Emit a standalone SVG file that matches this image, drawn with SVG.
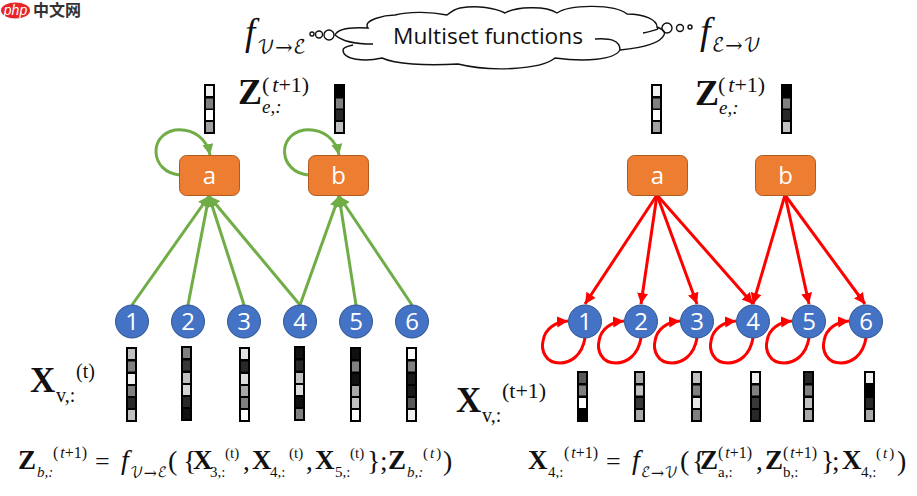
<svg xmlns="http://www.w3.org/2000/svg" width="917" height="496" viewBox="0 0 917 496">
<style>
.nr{fill:#ed7d31;stroke:#ae5a21;stroke-width:1}
.nc{fill:#4472c4;stroke:#2f528f;stroke-width:1}
.nt{font-family:"Open Sans","Noto Sans",sans-serif;font-size:24px;fill:#fff;text-anchor:middle}
.g{fill:none;stroke:#70ad47;stroke-width:3;marker-end:url(#ag)}
.r{fill:none;stroke:#f00;stroke-width:3;marker-end:url(#ar)}
.m{font-family:"Liberation Serif",serif;fill:#111}
.b{font-weight:bold}
.i{font-style:italic}
.s{font-family:"DejaVu Math TeX Gyre","DejaVu Serif",serif;font-style:normal}
.c{fill:none;stroke:#111;stroke-width:1.4}
</style>
<defs>
<marker id="ag" markerUnits="userSpaceOnUse" markerWidth="12" markerHeight="12" refX="11" refY="5.5" orient="auto"><path d="M0 0L11 5.5L0 11z" fill="#70ad47"/></marker>
<marker id="ar" markerUnits="userSpaceOnUse" markerWidth="12" markerHeight="12" refX="11" refY="5.5" orient="auto"><path d="M0 0L11 5.5L0 11z" fill="#f00"/></marker>
</defs>
<rect width="917" height="496" fill="#fff"/>

<g id="watermark">
<ellipse cx="15.500" cy="10.500" rx="14.500" ry="8" fill="#e8262a"/>
<text x="15.500" y="15" font-family="Liberation Sans,sans-serif" font-style="italic" font-size="14" fill="#fff" text-anchor="middle">php</text>
<text x="33" y="16" font-family="'Noto Sans CJK SC',sans-serif" font-size="16" font-weight="bold" fill="#333">中文网</text>
</g>

<g id="cloud">
<path class="c" d="M335 35C338 28 352 27 368 28C362 20 385 15 395 15C410 11 432 12 447 15C452 11 455 9 460 8C478 5 495 8 505 13C515 7 545 5 557 13C570 4 615 4 627 14C645 14 657 20 657 27C662 29 666 31 664 35C660 44 640 48 620 50C614 60 585 62 555 58C540 70 490 72 458 64C425 66 395 64 382 58C365 62 343 60 343 50C343 48 348 46 353 45"/>
<path class="c" d="M335 35C342 41 352 44 373 44M657 27C660 30 655 30 643 33M595 39C610 38 620 40 620 50"/>
<circle class="c" cx="312" cy="34" r="2"/><circle class="c" cx="319" cy="34.500" r="3.500"/><circle class="c" cx="329" cy="35" r="5"/>
<circle class="c" cx="667" cy="28" r="5"/><circle class="c" cx="680" cy="28" r="3.500"/><circle class="c" cx="690" cy="27" r="2"/>
<text x="393" y="44" font-family="'Open Sans','Noto Sans',sans-serif" font-size="22" fill="#111" textLength="190" lengthAdjust="spacingAndGlyphs">Multiset functions</text>
</g>

<g id="connectors">
<path class="g" d="M132 305L209 196"/><path class="g" d="M188 305L209 196"/><path class="g" d="M244 305L209 196"/><path class="g" d="M300 305L209 196"/>
<path class="g" d="M300 305L339 196"/><path class="g" d="M356 305L339 196"/><path class="g" d="M412 305L339 196"/>
<path class="g" d="M179.500 175C150 172 148 135 175 130C195 128 207 140 210 155"/>
<path class="g" d="M308 175C279 172 276 135 304 130C324 128 336 140 339 155"/>
<path class="r" d="M657 195L585 304"/><path class="r" d="M657 195L641 304"/><path class="r" d="M657 195L697 304"/><path class="r" d="M657 195L753 304"/>
<path class="r" d="M785 195L753 304"/><path class="r" d="M785 195L809 304"/><path class="r" d="M785 195L865 304"/>
<path class="r" d="M585 338C582 356 570 363 560 363C545 363 541 350 543 341C545 328 556 322 568 321"/>
<path class="r" d="M641 338C638 356 626 363 616 363C601 363 597 350 599 341C601 328 612 322 624 321"/>
<path class="r" d="M697 338C694 356 682 363 672 363C657 363 653 350 655 341C657 328 668 322 680 321"/>
<path class="r" d="M753 338C750 356 738 363 728 363C713 363 709 350 711 341C713 328 724 322 736 321"/>
<path class="r" d="M809 338C806 356 794 363 784 363C769 363 765 350 767 341C769 328 780 322 792 321"/>
<path class="r" d="M866 338C863 356 851 363 841 363C826 363 822 350 824 341C826 328 837 322 849 321"/>
</g>

<g id="a-left"><rect class="nr" x="179.500" y="155.500" width="60" height="40" rx="7"/><text class="nt" x="209.500" y="184">a</text></g>
<g id="b-left"><rect class="nr" x="308.500" y="155.500" width="60" height="40" rx="7"/><text class="nt" x="338.500" y="184">b</text></g>
<g id="a-right"><rect class="nr" x="627.500" y="155.500" width="60" height="40" rx="7"/><text class="nt" x="657.500" y="184">a</text></g>
<g id="b-right"><rect class="nr" x="755.500" y="155.500" width="60" height="40" rx="7"/><text class="nt" x="785.500" y="184">b</text></g>

<g id="n1-left"><circle class="nc" cx="132" cy="321.500" r="16.500"/><text class="nt" x="132" y="330">1</text></g>
<g id="n2-left"><circle class="nc" cx="188" cy="321.500" r="16.500"/><text class="nt" x="188" y="330">2</text></g>
<g id="n3-left"><circle class="nc" cx="244" cy="321.500" r="16.500"/><text class="nt" x="244" y="330">3</text></g>
<g id="n4-left"><circle class="nc" cx="300" cy="321.500" r="16.500"/><text class="nt" x="300" y="330">4</text></g>
<g id="n5-left"><circle class="nc" cx="356" cy="321.500" r="16.500"/><text class="nt" x="356" y="330">5</text></g>
<g id="n6-left"><circle class="nc" cx="412" cy="321.500" r="16.500"/><text class="nt" x="412" y="330">6</text></g>
<g id="n1-right"><circle class="nc" cx="585" cy="321.500" r="16.500"/><text class="nt" x="585" y="330">1</text></g>
<g id="n2-right"><circle class="nc" cx="641" cy="321.500" r="16.500"/><text class="nt" x="641" y="330">2</text></g>
<g id="n3-right"><circle class="nc" cx="697" cy="321.500" r="16.500"/><text class="nt" x="697" y="330">3</text></g>
<g id="n4-right"><circle class="nc" cx="753" cy="321.500" r="16.500"/><text class="nt" x="753" y="330">4</text></g>
<g id="n5-right"><circle class="nc" cx="809" cy="321.500" r="16.500"/><text class="nt" x="809" y="330">5</text></g>
<g id="n6-right"><circle class="nc" cx="866" cy="321.500" r="16.500"/><text class="nt" x="866" y="330">6</text></g>

<g id="vectors">
<g transform="translate(204,84)"><rect width="11" height="50"/><rect x="2" y="2" width="7" height="10" fill="#f0f0f0"/><rect x="2" y="14.500" width="7" height="10" fill="#808080"/><rect x="2" y="26" width="7" height="10" fill="#fff"/><rect x="2" y="38" width="7" height="10" fill="#a0a0a0"/></g>
<g transform="translate(334,84)"><rect width="11" height="50"/><rect x="2" y="14.500" width="7" height="10" fill="#808080"/><rect x="2" y="26" width="7" height="10" fill="#282828"/><rect x="2" y="38" width="7" height="10" fill="#c0c0c0"/></g>
<g transform="translate(651,84)"><rect width="11" height="50"/><rect x="2" y="2" width="7" height="10" fill="#f0f0f0"/><rect x="2" y="14.500" width="7" height="10" fill="#808080"/><rect x="2" y="26" width="7" height="10" fill="#fff"/><rect x="2" y="38" width="7" height="10" fill="#a0a0a0"/></g>
<g transform="translate(781,84)"><rect width="11" height="50"/><rect x="2" y="14.500" width="7" height="10" fill="#808080"/><rect x="2" y="26" width="7" height="10" fill="#282828"/><rect x="2" y="38" width="7" height="10" fill="#c0c0c0"/></g>

<g transform="translate(126,347)"><rect width="11" height="75"/><rect x="2" y="2" width="7" height="10" fill="#c0c0c0"/><rect x="2" y="14.500" width="7" height="10" fill="#808080"/><rect x="2" y="27" width="7" height="10" fill="#f0f0f0"/><rect x="2" y="39" width="7" height="10" fill="#808080"/><rect x="2" y="51" width="7" height="10" fill="#282828"/><rect x="2" y="63" width="7" height="10" fill="#c0c0c0"/></g>
<g transform="translate(181,346)"><rect width="11" height="75"/><rect x="2" y="2" width="7" height="10" fill="#808080"/><rect x="2" y="14.500" width="7" height="10" fill="#383838"/><rect x="2" y="27" width="7" height="10" fill="#c0c0c0"/><rect x="2" y="39" width="7" height="10" fill="#d4d4d4"/><rect x="2" y="51" width="7" height="10" fill="#282828"/><rect x="2" y="63" width="7" height="10" fill="#101010"/></g>
<g transform="translate(239,347)"><rect width="11" height="75"/><rect x="2" y="2" width="7" height="10" fill="#e4e4e4"/><rect x="2" y="14.500" width="7" height="10" fill="#282828"/><rect x="2" y="27" width="7" height="10" fill="#dcdcdc"/><rect x="2" y="39" width="7" height="10" fill="#a8a8a8"/><rect x="2" y="51" width="7" height="10" fill="#808080"/><rect x="2" y="63" width="7" height="10" fill="#fff"/></g>
<g transform="translate(294,346)"><rect width="11" height="75"/><rect x="2" y="2" width="7" height="10" fill="#101010"/><rect x="2" y="14.500" width="7" height="10" fill="#282828"/><rect x="2" y="27" width="7" height="10" fill="#c0c0c0"/><rect x="2" y="39" width="7" height="10" fill="#dcdcdc"/><rect x="2" y="51" width="7" height="10" fill="#101010"/><rect x="2" y="63" width="7" height="10" fill="#808080"/></g>
<g transform="translate(350,347)"><rect width="11" height="75"/><rect x="2" y="2" width="7" height="10" fill="#101010"/><rect x="2" y="14.500" width="7" height="10" fill="#808080"/><rect x="2" y="27" width="7" height="10" fill="#101010"/><rect x="2" y="39" width="7" height="10" fill="#a8a8a8"/><rect x="2" y="51" width="7" height="10" fill="#c0c0c0"/><rect x="2" y="63" width="7" height="10" fill="#fff"/></g>
<g transform="translate(406,347)"><rect width="11" height="75"/><rect x="2" y="2" width="7" height="10" fill="#fff"/><rect x="2" y="14.500" width="7" height="10" fill="#808080"/><rect x="2" y="27" width="7" height="10" fill="#181818"/><rect x="2" y="39" width="7" height="10" fill="#181818"/><rect x="2" y="51" width="7" height="10" fill="#585858"/><rect x="2" y="63" width="7" height="10" fill="#f0f0f0"/></g>

<g transform="translate(577,371)"><rect width="11" height="51"/><rect x="2" y="2" width="7" height="10" fill="#585858"/><rect x="2" y="14.500" width="7" height="10" fill="#808080"/><rect x="2" y="27" width="7" height="10" fill="#fff"/></g>
<g transform="translate(634,371)"><rect width="11" height="51"/><rect x="2" y="2" width="7" height="10" fill="#a8a8a8"/><rect x="2" y="14.500" width="7" height="10" fill="#c0c0c0"/><rect x="2" y="27" width="7" height="10" fill="#383838"/><rect x="2" y="39" width="7" height="10" fill="#a8a8a8"/></g>
<g transform="translate(691,371)"><rect width="11" height="51"/><rect x="2" y="2" width="7" height="10" fill="#c0c0c0"/><rect x="2" y="14.500" width="7" height="10" fill="#808080"/><rect x="2" y="27" width="7" height="10" fill="#e8e8e8"/><rect x="2" y="39" width="7" height="10" fill="#808080"/></g>
<g transform="translate(750,371)"><rect width="11" height="51"/><rect x="2" y="2" width="7" height="10" fill="#f0f0f0"/><rect x="2" y="14.500" width="7" height="10" fill="#808080"/><rect x="2" y="27" width="7" height="10" fill="#383838"/><rect x="2" y="39" width="7" height="10" fill="#282828"/></g>
<g transform="translate(803,371)"><rect width="11" height="51"/><rect x="2" y="2" width="7" height="10" fill="#282828"/><rect x="2" y="14.500" width="7" height="10" fill="#808080"/><rect x="2" y="27" width="7" height="10" fill="#c0c0c0"/><rect x="2" y="39" width="7" height="10" fill="#a8a8a8"/></g>
<g transform="translate(864,371)"><rect width="11" height="51"/><rect x="2" y="2" width="7" height="10" fill="#f0f0f0"/><rect x="2" y="27" width="7" height="10" fill="#282828"/><rect x="2" y="39" width="7" height="10" fill="#a8a8a8"/></g>
</g>

<g id="top-formulas">
<text class="m i" x="245" y="45" font-size="37">f</text>
<text class="m s" x="257" y="53" font-size="18.500">𝒱→ℰ</text>
<text class="m i" x="700" y="44" font-size="38">f</text>
<text class="m s" x="712" y="51" font-size="18.500">ℰ→𝒱</text>
<text class="m b" x="238" y="104" font-size="36">Z</text>
<text class="m" x="262" y="92" font-size="22">(<tspan class="i" dx="3">t</tspan>+1)</text>
<text class="m i" x="262" y="113" font-size="19">e,:</text>
<text class="m b" x="695" y="105" font-size="36">Z</text>
<text class="m" x="718" y="92" font-size="22">(<tspan class="i" dx="3">t</tspan>+1)</text>
<text class="m i" x="719" y="114" font-size="19">e,:</text>
<text class="m b" x="30" y="392" font-size="35">X</text>
<text class="m" x="56" y="402" font-size="20">v,:</text>
<text class="m" x="76" y="378" font-size="20">(t)</text>
<text class="m b" x="456" y="412" font-size="35">X</text>
<text class="m" x="482" y="422" font-size="20">v,:</text>
<text class="m" x="502" y="398" font-size="22">(t+1)</text>
</g>

<g id="equation-left">
<text class="m b" x="18" y="469" font-size="27">Z</text>
<text class="m i" x="37" y="477" font-size="15">b,:</text>
<text class="m" x="53" y="458" font-size="16">(<tspan class="i" dx="2">t</tspan>+1)</text>
<text class="m" x="95" y="470" font-size="26">=</text>
<text class="m i" x="121" y="469" font-size="28">f</text>
<text class="m s" x="130" y="477" font-size="14">𝒱→ℰ</text>
<text class="m" x="168" y="470" font-size="28">(</text>
<text class="m" x="183" y="470" font-size="28">{</text>
<text class="m b" x="193" y="469" font-size="27">X</text>
<text class="m" x="210" y="477" font-size="15">3,:</text>
<text class="m" x="225" y="458" font-size="15">(t)</text>
<text class="m" x="243" y="470" font-size="27">,</text>
<text class="m b" x="252" y="469" font-size="27">X</text>
<text class="m" x="270" y="477" font-size="15">4,:</text>
<text class="m" x="289" y="458" font-size="15">(t)</text>
<text class="m" x="306" y="470" font-size="27">,</text>
<text class="m b" x="315" y="469" font-size="27">X</text>
<text class="m" x="335" y="477" font-size="15">5,:</text>
<text class="m" x="350" y="458" font-size="15">(t)</text>
<text class="m" x="367" y="470" font-size="28">}</text>
<text class="m" x="380" y="470" font-size="27">;</text>
<text class="m b" x="388" y="469" font-size="27">Z</text>
<text class="m i" x="407" y="477" font-size="15">b,:</text>
<text class="m" x="423" y="458" font-size="15">(<tspan class="i" dx="2">t</tspan><tspan dx="2">)</tspan></text>
<text class="m" x="443" y="470" font-size="28">)</text>
</g>

<g id="equation-right">
<text class="m b" x="528" y="469" font-size="27">X</text>
<text class="m" x="548" y="477" font-size="15">4,:</text>
<text class="m" x="564" y="458" font-size="16">(<tspan class="i" dx="2">t</tspan>+1)</text>
<text class="m" x="606" y="470" font-size="26">=</text>
<text class="m i" x="632" y="469" font-size="28">f</text>
<text class="m s" x="641" y="477" font-size="14">ℰ→𝒱</text>
<text class="m" x="680" y="470" font-size="28">(</text>
<text class="m" x="692" y="470" font-size="28">{</text>
<text class="m b" x="700" y="469" font-size="27">Z</text>
<text class="m" x="718" y="477" font-size="15">a,:</text>
<text class="m" x="718" y="458" font-size="16">(<tspan class="i" dx="2">t</tspan>+1)</text>
<text class="m" x="756" y="470" font-size="27">,</text>
<text class="m b" x="765" y="469" font-size="27">Z</text>
<text class="m" x="783" y="477" font-size="15">b,:</text>
<text class="m" x="783" y="458" font-size="16">(<tspan class="i" dx="2">t</tspan>+1)</text>
<text class="m" x="821" y="470" font-size="28">}</text>
<text class="m" x="832" y="470" font-size="27">;</text>
<text class="m b" x="842" y="469" font-size="27">X</text>
<text class="m" x="861" y="477" font-size="15">4,:</text>
<text class="m" x="876" y="458" font-size="15">(<tspan class="i" dx="2">t</tspan><tspan dx="2">)</tspan></text>
<text class="m" x="897" y="470" font-size="28">)</text>
</g>
</svg>
